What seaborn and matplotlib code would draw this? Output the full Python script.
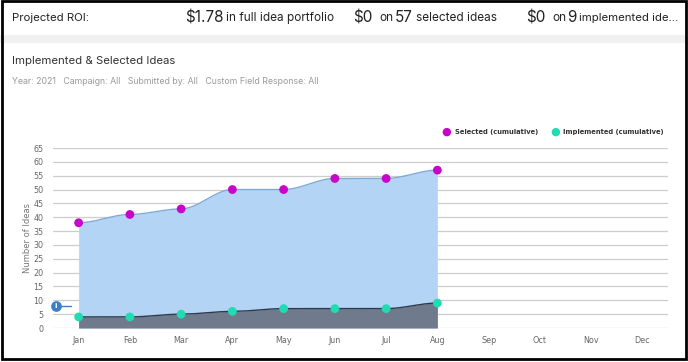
import numpy as np
import pandas as pd
import matplotlib
matplotlib.use('Agg')
import matplotlib.pyplot as plt
import seaborn as sns
from matplotlib.patches import Rectangle

months = ['Jan', 'Feb', 'Mar', 'Apr', 'May', 'Jun', 'Jul', 'Aug', 'Sep', 'Oct', 'Nov', 'Dec']
selected = [38, 41, 43, 50, 50, 54, 54, 57]
implemented = [4, 4, 5, 6, 7, 7, 7, 9]
y_ticks = list(range(0, 70, 5))
info_value = 8

sel_fill = '#b3d4f5'
sel_line = '#7eaad6'
imp_fill = '#6f7b8c'
imp_line = '#2e3a4c'
sel_dot = '#c805c8'
imp_dot = '#21dcb2'


def smooth(vals, n=30):
    # smoothstep between neighbouring points, flat tangents at each point
    xs, ys = [], []
    for i in range(len(vals) - 1):
        t = np.linspace(0, 1, n, endpoint=False)
        s = 3 * t ** 2 - 2 * t ** 3
        xs.append(i + t)
        ys.append(vals[i] + (vals[i + 1] - vals[i]) * s)
    xs.append(np.array([len(vals) - 1]))
    ys.append(np.array([vals[-1]]))
    return np.concatenate(xs), np.concatenate(ys)


sns.set_theme(style='white')
plt.rcParams['font.family'] = ['DejaVu Sans']

fig = plt.figure(figsize=(6.88, 3.62), dpi=100)
W, H = 688, 362


def fy(py):
    return 1 - py / H


def fx(px):
    return px / W


# header band and separators
fig.patches.append(Rectangle((0, fy(35)), 1, fy(0) - fy(35), transform=fig.transFigure,
                             facecolor='white', edgecolor='none', zorder=0))
fig.patches.append(Rectangle((0, fy(43)), 1, fy(35) - fy(43), transform=fig.transFigure,
                             facecolor='#f0f0f0', edgecolor='none', zorder=0))
fig.patches.append(Rectangle((0.003, 0.008), 0.994, 0.99, transform=fig.transFigure,
                             facecolor='none', edgecolor='black', lw=2.0, zorder=10))

hdr = dict(family=['Inter', 'DejaVu Sans'], color='#222222', va='baseline')
fig.text(fx(12), fy(21), 'Projected ROI:', fontsize=8.2, **hdr)
fig.text(fx(185), fy(22), '$1.78', fontsize=11, **hdr)
fig.text(fx(226), fy(21), 'in full idea portfolio', fontsize=8.5, **hdr)
fig.text(fx(353), fy(22), '$0', fontsize=11, **hdr)
fig.text(fx(379), fy(21), 'on', fontsize=8.5, **hdr)
fig.text(fx(395), fy(22), '57', fontsize=11, **hdr)
fig.text(fx(416), fy(21), 'selected ideas', fontsize=8.5, **hdr)
fig.text(fx(526), fy(22), '$0', fontsize=11, **hdr)
fig.text(fx(552), fy(21), 'on', fontsize=8.5, **hdr)
fig.text(fx(567), fy(22), '9', fontsize=11, **hdr)
fig.text(fx(579), fy(21), 'implemented ide...', fontsize=8.2, **hdr)

fig.text(fx(12), fy(64), 'Implemented & Selected Ideas', fontsize=8.2,
         family=['Inter', 'DejaVu Sans'], color='#333333', va='baseline')
fig.text(fx(12), fy(84), 'Year: 2021   Campaign: All   Submitted by: All   Custom Field Response: All',
         fontsize=6.3, family=['Inter', 'DejaVu Sans'], color='#9a9a9a', va='baseline')

# plot area
ax = fig.add_axes([fx(53), fy(328), fx(668) - fx(53), fy(148) - fy(328)])
ax.set_facecolor('none')
ax.set_xlim(-0.5, len(months) - 0.5)
ax.set_ylim(0, 65)
for s in ax.spines.values():
    s.set_visible(False)
for v in y_ticks:
    ax.axhline(v, color='#cdcdcd', lw=0.9, zorder=1)

xs, ys_sel = smooth(selected)
_, ys_imp = smooth(implemented)
ax.fill_between(xs, 0, ys_sel, color=sel_fill, lw=0, zorder=2)
ax.plot(xs, ys_sel, color=sel_line, lw=1.0, zorder=3)
ax.fill_between(xs, 0, ys_imp, color=imp_fill, lw=0, zorder=4)
ax.plot(xs, ys_imp, color=imp_line, lw=1.0, zorder=5)

df = pd.DataFrame({
    'x': list(range(len(selected))) * 2,
    'value': selected + implemented,
    'series': ['Selected (cumulative)'] * len(selected) + ['Implemented (cumulative)'] * len(implemented),
})
sns.scatterplot(data=df, x='x', y='value', hue='series',
                palette={'Selected (cumulative)': sel_dot, 'Implemented (cumulative)': imp_dot},
                s=40, edgecolor='none', ax=ax, zorder=6, clip_on=False, legend=False)

ax.set_xticks(range(len(months)))
ax.set_xticklabels(months)
ax.set_yticks(y_ticks)
ax.tick_params(axis='both', length=0, labelsize=5.8, colors='#666666')
ax.tick_params(axis='x', pad=6)
ax.tick_params(axis='y', pad=7)
ax.set_xlabel('')
ax.set_ylabel('Number of Ideas', fontsize=6, color='#777777', labelpad=1)

# info marker on the left edge
ax.plot([-0.45, -0.15], [info_value, info_value], color='#3d7fc6', lw=1.0, zorder=7, clip_on=False)
ax.scatter([-0.45], [info_value], s=45, color='#3d7fc6', zorder=8, clip_on=False)
ax.text(-0.45, info_value, 'i', color='white', fontsize=5, fontweight='bold',
        ha='center', va='center', zorder=9, clip_on=False)

# legend row
fig.text(fx(446), fy(132), '\u25cf', color=sel_dot, fontsize=8, ha='center', va='center')
fig.text(fx(455), fy(132), 'Selected (cumulative)', color='#333333', fontsize=4.9,
         fontweight='bold', ha='left', va='center')
fig.text(fx(555), fy(132), '\u25cf', color=imp_dot, fontsize=8, ha='center', va='center')
fig.text(fx(563), fy(132), 'Implemented (cumulative)', color='#333333', fontsize=4.9,
         fontweight='bold', ha='left', va='center')

fig.savefig('out.png', dpi=100, facecolor='white')
